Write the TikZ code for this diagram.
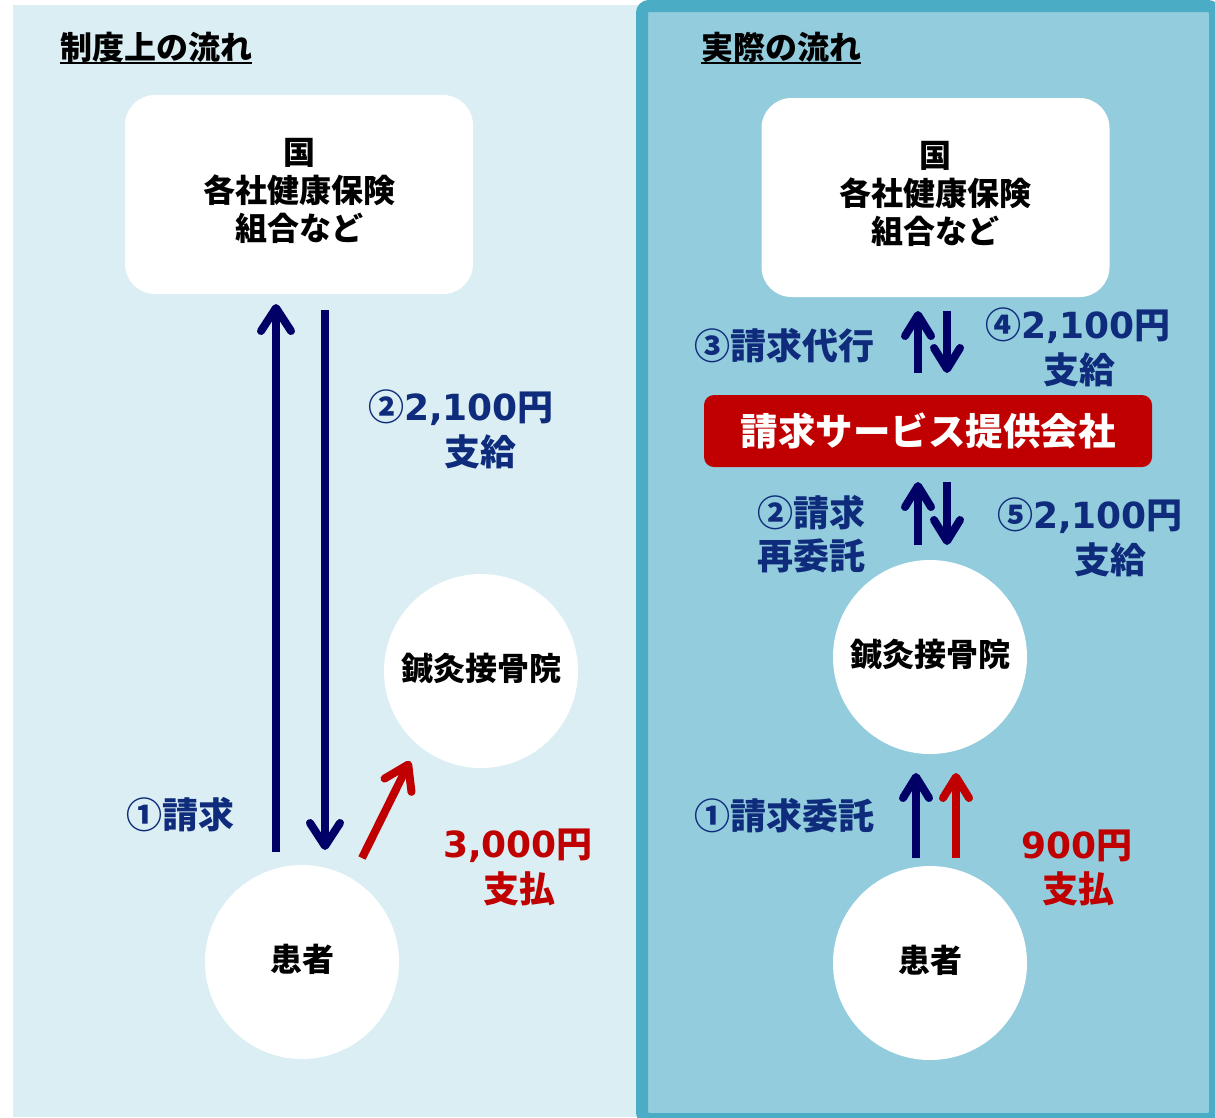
\documentclass[tikz,border=0pt]{standalone}
\usepackage{fontspec}
\setmainfont{Noto Sans CJK JP}
\newfontfamily\dv{DejaVu Sans}
\usetikzlibrary{arrows.meta}
\definecolor{lbg}{HTML}{DAEEF3}
\definecolor{rbg}{HTML}{93CDDD}
\definecolor{rbd}{HTML}{4BACC6}
\definecolor{navy}{HTML}{000066}
\definecolor{tblue}{HTML}{0F2C7C}
\definecolor{dred}{HTML}{C00000}
\begin{document}
\begin{tikzpicture}[x=1pt,y=-1pt,
  whitebox/.style={fill=white, rounded corners=30pt, minimum width=348pt, minimum height=199pt, inner sep=0pt},
  boxtext/.style={inner sep=0pt, font=\fontsize{32}{38}\selectfont\bfseries, align=center},
  circnode/.style={circle, fill=white, minimum size=194pt, inner sep=0pt},
  circtext/.style={inner sep=0pt, font=\fontsize{32}{38}\selectfont\bfseries},
  title/.style={font=\fontsize{32}{38}\selectfont\bfseries, inner sep=0pt},
  lbl/.style={font=\fontsize{36}{44}\selectfont\bfseries, text=tblue, inner sep=0pt},
  rlbl/.style={font=\fontsize{36}{44}\selectfont\bfseries, text=dred, inner sep=0pt},
  arr/.style={line width=8pt, -{Straight Barb[length=23pt,width=30pt,round]}},
  sarr/.style={line width=8pt, -{Straight Barb[length=21pt,width=26pt,round]}}
]
\useasboundingbox (0,0) rectangle (1215,1117);
% panels
\fill[lbg] (13,5) rectangle (645,1117);
\draw[rbd, fill=rbg, line width=12pt, rounded corners=7pt] (642,6) rectangle (1215,1119);

% titles
\node[title] (t1) at (156,47) {制度上の流れ};
\draw[line width=1.8pt] (t1.south west |- 0,63) -- (t1.south east |- 0,63);
\node[title] (t2) at (781,47) {実際の流れ};
\draw[line width=1.8pt] (t2.south west |- 0,63) -- (t2.south east |- 0,63);

% left side
\node[whitebox] (govL) at (299,194.5) {};
\node[boxtext] (govLt) at ([yshift=4pt]govL.center) {国\\各社健康保険\\組合など};
\node[circnode] (hospL) at (481,671) {};
\node[circtext] (hospLt) at ([yshift=2pt]hospL.center) {鍼灸接骨院};
\node[circnode] (patL) at (302,962) {};
\node[circtext] (patLt) at ([yshift=3pt]patL.center) {患者};

\coordinate (aL1s) at (276,852);
\coordinate (aL1e) at (276,304);
\coordinate (aL2s) at (325,310);
\coordinate (aL2e) at (325,850);
\coordinate (aL3s) at (362,858);
\coordinate (aL3e) at (410,761);
\draw[arr, navy] (aL1s) -- (aL1e);
\draw[arr, navy] (aL2s) -- (aL2e);
\draw[arr, dred] (aL3s) -- (aL3e);

\node[lbl] (l1) at (180,815) {①請求};
\node[lbl] (l2a) at (461,408) {②{\dv 2,100}円};
\node[lbl] (l2b) at (480,452) {支給};
\node[rlbl] (l3a) at (518,846) {{\dv 3,000}円};
\node[rlbl] (l3b) at (519,889) {支払};

% right side
\node[whitebox] (govR) at (935.5,197.5) {};
\node[boxtext] (govRt) at ([yshift=4pt]govR.center) {国\\各社健康保険\\組合など};
\node[fill=dred, rounded corners=10pt, minimum width=448pt, minimum height=72pt, inner sep=0pt, text=white, font=\fontsize{37.5}{44}\selectfont\bfseries] (svc) at (928,431) {請求サービス提供会社};
\node[circnode] (hospR) at (930,657) {};
\node[circtext] (hospRt) at ([yshift=2pt]hospR.center) {鍼灸接骨院};
\node[circnode] (patR) at (930,963) {};
\node[circtext] (patRt) at ([yshift=3pt]patR.center) {患者};

\coordinate (r1s) at (918,373);
\coordinate (r1e) at (918,311);
\coordinate (r2s) at (947,311);
\coordinate (r2e) at (947,373);
\coordinate (r3s) at (918,545);
\coordinate (r3e) at (918,482);
\coordinate (r4s) at (947,482);
\coordinate (r4e) at (947,545);
\coordinate (r5s) at (916,858);
\coordinate (r5e) at (916,773);
\coordinate (r6s) at (956,858);
\coordinate (r6e) at (956,773);
\draw[sarr, navy] (r1s) -- (r1e);
\draw[sarr, navy] (r2s) -- (r2e);
\draw[sarr, navy] (r3s) -- (r3e);
\draw[sarr, navy] (r4s) -- (r4e);
\draw[sarr, navy] (r5s) -- (r5e);
\draw[sarr, dred] (r6s) -- (r6e);

\node[lbl] (m3) at (784,346) {③請求代行};
\node[lbl] (m4a) at (1078,326) {④{\dv 2,100}円};
\node[lbl] (m4b) at (1079,370) {支給};
\node[lbl] (m2a) at (811,513) {②請求};
\node[lbl] (m2b) at (811,556) {再委託};
\node[lbl] (m5a) at (1090,516) {⑤{\dv 2,100}円};
\node[lbl] (m5b) at (1110,560) {支給};
\node[lbl] (m1) at (784,816) {①請求委託};
\node[rlbl] (m6a) at (1077,846) {{\dv 900}円};
\node[rlbl] (m6b) at (1078,889) {支払};
\end{tikzpicture}
\end{document}
